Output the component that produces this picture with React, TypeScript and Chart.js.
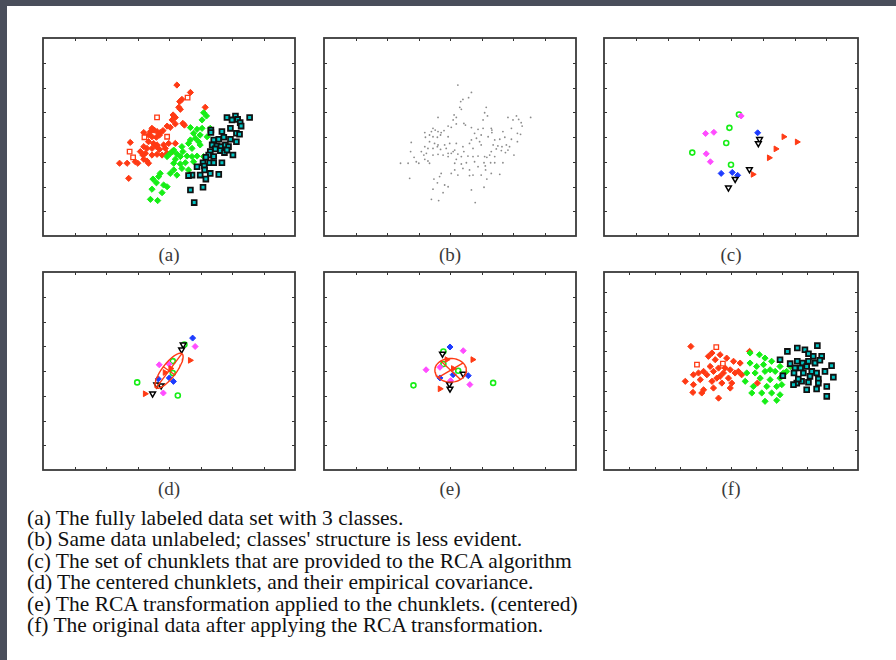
import React, { useEffect, useRef } from "react";
import { Chart, registerables } from "chart.js";
Chart.register(...registerables);

type P = [number, number];

// ---------- (a) fully labeled data (axis units 0..8) ----------
const redA: P[] = [[4.25,6.10],[4.68,5.80],[4.41,5.52],[4.34,5.43],[4.31,5.20],[4.36,5.12],[5.15,5.20],[4.13,4.89],[4.20,4.79],[4.10,4.69],[4.44,4.55],[4.49,4.48],[3.94,4.44],[4.04,4.39],[4.20,4.53],[3.46,4.35],[3.53,4.28],[3.62,4.22],[3.72,4.18],[3.81,4.26],[3.41,4.22],[3.20,4.18],[3.35,4.08],[3.46,4.01],[3.60,3.99],[3.70,4.08],[2.77,3.78],[3.35,3.81],[3.51,3.74],[3.62,3.68],[3.83,3.68],[3.99,3.74],[4.20,3.74],[3.20,3.61],[3.30,3.54],[3.46,3.54],[3.60,3.61],[3.70,3.50],[3.88,3.54],[3.09,3.41],[3.25,3.34],[3.46,3.27],[3.62,3.30],[3.78,3.27],[3.94,3.34],[4.10,3.41],[3.20,3.10],[2.93,3.00],[3.35,2.94],[2.67,2.94],[2.43,2.94],[3.30,3.03],[2.72,2.33],[3.17,3.27],[3.01,2.94]];
const redHollowA: P[] = [[4.59,5.59],[3.62,4.79],[3.22,3.99],[3.94,4.01],[2.75,3.41],[2.86,3.18]];
const greenA: P[] = [[5.10,4.98],[5.19,4.85],[5.05,4.69],[4.68,4.38],[4.89,4.31],[5.05,4.35],[5.31,4.35],[4.78,4.15],[4.99,4.08],[5.21,4.01],[4.84,3.95],[4.68,3.88],[4.94,3.81],[4.62,3.74],[4.99,3.68],[4.41,3.61],[4.15,3.47],[4.04,3.34],[4.25,3.31],[4.44,3.41],[4.57,3.23],[4.73,3.21],[4.89,3.23],[5.10,3.21],[3.94,3.21],[4.15,2.94],[4.36,2.91],[4.52,2.96],[4.78,3.00],[4.15,2.67],[4.04,2.53],[4.25,2.46],[3.72,2.53],[3.67,2.40],[3.49,2.30],[3.60,2.15],[3.83,2.06],[3.94,1.99],[3.78,1.75],[3.46,1.89],[3.41,1.48],[3.64,1.43],[4.62,2.67],[4.41,2.73],[4.73,3.54],[4.36,3.21],[4.20,3.10]];
const blackA: P[] = [[5.84,4.79],[6.11,4.85],[6.18,4.71],[6.00,4.69],[6.56,4.79],[6.26,4.58],[6.29,4.44],[5.95,4.35],[5.33,4.28],[5.33,4.18],[6.14,4.15],[6.24,4.11],[5.68,4.22],[5.42,3.88],[5.58,3.91],[5.74,3.99],[5.95,3.91],[6.14,3.81],[5.37,3.68],[5.52,3.64],[5.65,3.61],[5.79,3.68],[5.89,3.61],[5.47,3.52],[5.31,3.41],[5.63,3.45],[5.76,3.37],[5.84,3.47],[5.26,3.27],[5.17,3.18],[5.42,3.21],[6.03,3.27],[5.08,2.96],[5.29,2.96],[5.12,2.83],[5.42,2.96],[5.68,2.96],[4.89,2.80],[5.13,2.67],[5.31,2.53],[5.58,2.49],[4.99,2.46],[4.73,2.46],[4.62,2.44],[5.17,2.30],[4.68,1.86],[5.08,1.97],[4.80,1.35]];

// ---------- (c) chunklets ----------
const greenC: P[] = [[4.25,4.91],[3.95,4.37],[3.85,3.76],[2.78,3.37],[4.00,2.88]];
const magentaC: P[] = [[4.32,4.85],[3.20,4.14],[3.46,4.19],[3.22,3.32],[3.35,3.00]];
const blueC: P[] = [[4.84,4.17],[3.69,2.53],[4.04,2.57],[4.21,2.45]];
const blackC: P[] = [[4.90,3.91],[4.86,3.74],[4.58,2.69],[4.13,2.30],[3.92,1.95]];
const redC: P[] = [[5.66,4.01],[6.08,3.80],[5.41,3.52],[5.20,3.16],[4.69,2.49]];

// ---------- (d) centered chunklets + covariance ellipse ----------
const greenD: P[] = [[4.49,5.07],[4.12,4.40],[4.12,3.92],[2.99,3.54],[4.28,3.01]];
const magentaD: P[] = [[4.83,4.99],[3.69,4.25],[4.00,4.28],[3.82,3.11]];
const blueD: P[] = [[4.75,5.33],[4.01,3.72],[4.14,3.58],[3.66,3.68]];
const blackD: P[] = [[4.45,5.06],[4.40,4.86],[3.61,3.45],[3.75,3.41],[3.48,3.08]];
const redD: P[] = [[4.67,4.43],[3.87,3.94],[3.24,3.08],[4.05,4.10]];
const ellipseD = { center: [4.0, 4.01] as P, major: [0.41, 0.69] as P, minor: [0.18, -0.16] as P };

// ---------- (e) RCA-transformed chunklets ----------
const greenE: P[] = [[3.79,4.79],[3.79,4.28],[4.26,4.01],[2.84,3.42],[5.37,3.52]];
const magentaE: P[] = [[4.42,4.82],[3.24,4.05],[3.68,4.15],[4.02,3.61],[4.63,3.45]];
const blueE: P[] = [[4.00,4.97],[4.58,3.81],[4.10,3.85],[3.68,3.72]];
const blackE: P[] = [[3.76,4.69],[4.42,3.88],[3.98,3.47],[4.00,3.28]];
const redE: P[] = [[4.72,4.46],[3.90,4.46],[3.68,3.28],[4.10,4.10]];
const circleE = { center: [4.02, 4.03] as P, major: [0.5, 0] as P, minor: [0, 0.48] as P };

// ---------- (f) data after RCA (axis units 0..10) ----------
const redF: P[] = [[3.42,6.24],[4.25,5.91],[4.57,5.82],[4.11,5.74],[4.83,5.65],[5.10,5.49],[4.38,5.57],[5.36,5.40],[4.18,5.23],[4.51,5.15],[3.92,4.98],[4.31,4.98],[4.70,4.90],[4.97,5.06],[5.16,4.90],[3.72,4.90],[3.52,4.81],[4.05,4.81],[4.57,4.73],[4.90,4.64],[5.42,4.81],[3.20,4.48],[3.79,4.56],[4.25,4.48],[4.64,4.39],[5.03,4.39],[4.31,4.14],[3.92,4.05],[3.52,4.31],[4.97,4.14],[3.50,3.92],[4.51,3.63],[3.85,3.89],[5.29,4.98],[6.04,4.39],[5.73,5.99],[4.44,4.64],[4.77,5.15]];
const redHollowF: P[] = [[4.42,6.21],[4.68,5.37],[3.66,5.32]];
const greenF: P[] = [[5.75,5.91],[6.12,5.82],[6.34,5.65],[5.75,5.40],[6.01,5.23],[6.28,5.32],[6.60,5.49],[6.93,5.23],[5.62,4.90],[5.95,4.90],[6.34,4.98],[6.74,4.98],[7.06,4.90],[5.56,4.48],[6.15,4.64],[6.54,4.56],[6.93,4.64],[7.19,4.98],[5.88,4.22],[6.41,4.22],[6.80,4.22],[5.82,3.89],[6.21,3.89],[6.60,3.89],[6.93,3.80],[6.34,3.47],[6.80,3.52],[7.33,5.23],[7.00,4.31],[6.54,5.06]];
const blackF: P[] = [[7.22,5.99],[7.61,6.16],[7.91,6.07],[8.05,5.87],[8.40,6.28],[8.24,5.74],[8.57,5.74],[8.96,5.27],[6.93,5.57],[7.33,5.37],[7.61,5.49],[7.82,5.40],[8.05,5.49],[8.31,5.40],[8.50,5.54],[7.52,5.15],[7.74,5.15],[7.98,5.23],[8.18,4.98],[8.37,4.90],[8.70,4.98],[9.03,4.69],[7.48,4.90],[7.85,4.90],[8.11,4.73],[7.04,4.76],[8.44,4.59],[7.59,4.39],[7.78,4.48],[7.46,4.31],[8.05,4.43],[8.44,4.39],[8.77,4.22],[7.98,4.05],[8.37,4.09],[8.77,3.72],[7.65,4.59]];

const panelLabels = ["(a)", "(b)", "(c)", "(d)", "(e)", "(f)"];
const captionLines = [
  "(a) The fully labeled data set with 3 classes.",
  "(b) Same data unlabeled; classes' structure is less evident.",
  "(c) The set of chunklets that are provided to the RCA algorithm",
  "(d) The centered chunklets, and their empirical covariance.",
  "(e) The RCA transformation applied to the chunklets. (centered)",
  "(f) The original data after applying the RCA transformation.",
];

// ---------- styles ----------
const RED = "#ff3a14";
const GREEN = "#16ee16";
const CYAN = "#00c4c4";
const BLUE = "#1e3cff";
const MAGENTA = "#ff4cff";
const pts = (a: P[]) => a.map(([x, y]) => ({ x, y }));

const sRed = { pointStyle: "rectRot", pointRadius: 3.1, backgroundColor: RED, borderColor: RED, borderWidth: 1 };
const sRedHollow = { pointStyle: "rect", pointRadius: 3.2, backgroundColor: "#fff", borderColor: RED, borderWidth: 1.3 };
const sGreen = { pointStyle: "rectRot", pointRadius: 3.1, backgroundColor: GREEN, borderColor: GREEN, borderWidth: 1 };
const sBlack = { pointStyle: "rect", pointRadius: 3.4, backgroundColor: CYAN, borderColor: "#111", borderWidth: 1.8 };
const sGray = { pointStyle: "circle", pointRadius: 0.9, backgroundColor: "rgba(90,90,90,0.7)", borderColor: "rgba(90,90,90,0.7)", borderWidth: 0 };
const cGreen = { pointStyle: "circle", pointRadius: 2.5, backgroundColor: "#fff", borderColor: GREEN, borderWidth: 1.6 };
const cMagenta = { pointStyle: "rectRot", pointRadius: 3, backgroundColor: MAGENTA, borderColor: MAGENTA, borderWidth: 1 };
const cBlue = { pointStyle: "rectRot", pointRadius: 3, backgroundColor: BLUE, borderColor: BLUE, borderWidth: 1 };
const cBlack = { pointStyle: "triangle", rotation: 180, pointRadius: 3.3, backgroundColor: "#fff", borderColor: "#000", borderWidth: 1.5 };
const cRed = { pointStyle: "triangle", rotation: 90, pointRadius: 3.3, backgroundColor: RED, borderColor: RED, borderWidth: 1 };

function ellipsePts(e: { center: P; major: P; minor: P }) {
  const out: { x: number; y: number }[] = [];
  for (let i = 0; i <= 64; i++) {
    const t = (i / 64) * Math.PI * 2;
    out.push({
      x: e.center[0] + e.major[0] * Math.cos(t) + e.minor[0] * Math.sin(t),
      y: e.center[1] + e.major[1] * Math.cos(t) + e.minor[1] * Math.sin(t),
    });
  }
  return out;
}
function axisLine(c: P, v: P) {
  return [{ x: c[0] - v[0], y: c[1] - v[1] }, { x: c[0] + v[0], y: c[1] + v[1] }];
}
const lineStyle = { showLine: true, pointRadius: 0, borderColor: RED, borderWidth: 1.4, backgroundColor: RED, fill: false };

const chunkSets = (g: P[], m: P[], b: P[], k: P[], r: P[]) => [
  { data: pts(k), ...cBlack },
  { data: pts(r), ...cRed },
  { data: pts(b), ...cBlue },
  { data: pts(m), ...cMagenta },
  { data: pts(g), ...cGreen },
];

type Panel = { left: number; top: number; w: number; h: number; n: number; datasets: any[] };

const panels: Panel[] = [
  { left: 43, top: 38, w: 252, h: 198, n: 8, datasets: [
    { data: pts(blackA), ...sBlack }, { data: pts(greenA), ...sGreen }, { data: pts(redHollowA), ...sRedHollow }, { data: pts(redA), ...sRed } ] },
  { left: 324, top: 38, w: 252, h: 198, n: 8, datasets: [
    { data: pts([...redA, ...redHollowA, ...greenA, ...blackA]), ...sGray } ] },
  { left: 604, top: 38, w: 254, h: 198, n: 8, datasets: chunkSets(greenC, magentaC, blueC, blackC, redC) },
  { left: 43, top: 272, w: 252, h: 198, n: 8, datasets: [
    { data: ellipsePts(ellipseD), ...lineStyle },
    { data: axisLine(ellipseD.center, ellipseD.major), ...lineStyle },
    { data: axisLine(ellipseD.center, ellipseD.minor), ...lineStyle },
    ...chunkSets(greenD, magentaD, blueD, blackD, redD) ] },
  { left: 324, top: 272, w: 252, h: 198, n: 8, datasets: [
    { data: ellipsePts(circleE), ...lineStyle },
    { data: axisLine(circleE.center, [0.4, 0.3]), ...lineStyle },
    { data: axisLine(circleE.center, [0.32, -0.38]), ...lineStyle },
    ...chunkSets(greenE, magentaE, blueE, blackE, redE) ] },
  { left: 604, top: 272, w: 254, h: 198, n: 10, datasets: [
    { data: pts(blackF), ...sBlack }, { data: pts(greenF), ...sGreen }, { data: pts(redHollowF), ...sRedHollow }, { data: pts(redF), ...sRed } ] },
];

const PAD = 6;

function ScatterPanel({ p, label }: { p: Panel; label: string }) {
  const ref = useRef<HTMLCanvasElement | null>(null);
  useEffect(() => {
    if (!ref.current) return;
    const n = p.n;
    const frame = {
      id: "frameTicks",
      afterDraw(chart: any) {
        const { ctx, chartArea: a, scales } = chart;
        ctx.save();
        ctx.strokeStyle = "#333";
        ctx.lineWidth = 1;
        const L = 3;
        ctx.beginPath();
        for (let v = 1; v < n; v++) {
          const px = Math.round(scales.x.getPixelForValue(v)) + 0.5;
          ctx.moveTo(px, a.bottom); ctx.lineTo(px, a.bottom - L);
          ctx.moveTo(px, a.top); ctx.lineTo(px, a.top + L);
          const py = Math.round(scales.y.getPixelForValue(v)) + 0.5;
          ctx.moveTo(a.left, py); ctx.lineTo(a.left + L, py);
          ctx.moveTo(a.right, py); ctx.lineTo(a.right - L, py);
        }
        ctx.stroke();
        ctx.lineWidth = 1.8;
        ctx.strokeStyle = "#3a3a3a";
        ctx.strokeRect(a.left, a.top, a.right - a.left, a.bottom - a.top);
        ctx.restore();
      },
    };
    const chart = new Chart(ref.current, {
      type: "scatter",
      data: { datasets: p.datasets },
      options: {
        animation: false,
        responsive: false,
        devicePixelRatio: 1,
        events: [],
        layout: { padding: PAD },
        plugins: { legend: { display: false }, tooltip: { enabled: false } },
        scales: {
          x: { type: "linear", min: 0, max: n, display: false },
          y: { type: "linear", min: 0, max: n, display: false },
        },
      } as any,
      plugins: [frame],
    });
    return () => chart.destroy();
  }, [p]);
  return (
    <>
      <canvas
        ref={ref}
        width={p.w + PAD * 2}
        height={p.h + PAD * 2}
        style={{ position: "absolute", left: p.left - PAD, top: p.top - PAD, width: p.w + PAD * 2, height: p.h + PAD * 2 }}
      />
      <div
        style={{
          position: "absolute",
          left: p.left,
          width: p.w,
          top: p.top + p.h + 9,
          textAlign: "center",
          fontFamily: "'Liberation Serif', serif",
          fontSize: 19,
          lineHeight: "20px",
          color: "#3a3a3a",
        }}
      >
        {label}
      </div>
    </>
  );
}

export default function App() {
  return (
    <div style={{ position: "absolute", left: 0, top: 0, width: 896, height: 660, background: "#4a4e5b", overflow: "hidden" }}>
      <div style={{ position: "absolute", left: 7, top: 6, width: 889, height: 654, background: "#fff" }} />
      {panels.map((p, i) => (
        <ScatterPanel key={i} p={p} label={panelLabels[i]} />
      ))}
      <div
        style={{
          position: "absolute",
          left: 27,
          top: 508,
          fontFamily: "'Liberation Serif', serif",
          fontSize: 21.5,
          lineHeight: "21.4px",
          color: "#111",
          whiteSpace: "nowrap",
        }}
      >
        {captionLines.map((t, i) => (
          <div key={i}>{t}</div>
        ))}
      </div>
    </div>
  );
}
